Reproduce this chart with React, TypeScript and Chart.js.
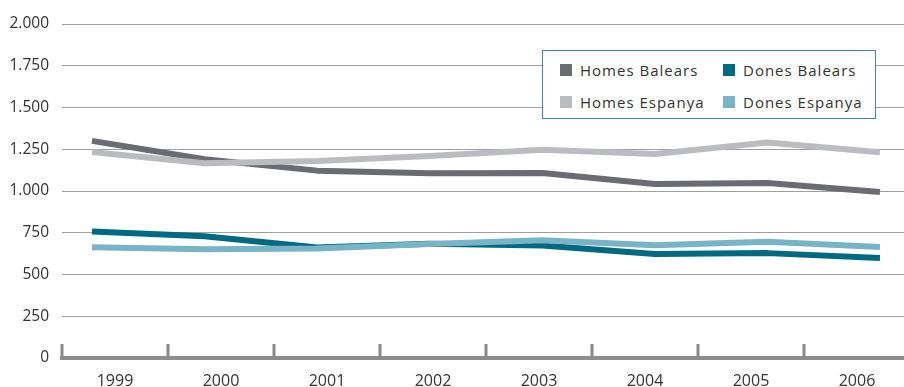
import React, { useEffect, useRef } from "react";
import { Chart, registerables } from "chart.js";

Chart.register(...registerables);

const years = ["1999", "2000", "2001", "2002", "2003", "2004", "2005", "2006"];
const homesBalears = [1300, 1190, 1122, 1106, 1108, 1042, 1048, 994];
const homesEspanya = [1233, 1166, 1180, 1210, 1247, 1221, 1290, 1232];
const donesBalears = [758, 729, 662, 684, 674, 623, 628, 599];
const donesEspanya = [663, 651, 656, 682, 705, 675, 696, 665];
const yTickValues = [0, 250, 500, 750, 1000, 1250, 1500, 1750, 2000];

const seriesNames = ["Homes Balears", "Dones Balears", "Homes Espanya", "Dones Espanya"];
const seriesColors = ["#6b6c71", "#006a82", "#bbbcc0", "#78b4c8"];

const FONT = "'Open Sans', 'Noto Sans', sans-serif";

const fmt = (v: number) => String(v).replace(/\B(?=(\d{3})+(?!\d))/g, ".");

const boundaryTicks = {
  id: "boundaryTicks",
  afterDraw(chart: any) {
    const x = chart.scales.x;
    const n = chart.data.labels.length;
    const w = (x.right - x.left) / n;
    const ctx = chart.ctx;
    ctx.save();
    ctx.fillStyle = "#8a8a8a";
    for (let i = 0; i <= n; i++) {
      const px = x.left + i * w;
      ctx.fillRect(px - 1.5, chart.chartArea.bottom - 14, 3, 12);
    }
    ctx.restore();
  },
};

export default function App() {
  const ref = useRef<HTMLCanvasElement>(null);

  useEffect(() => {
    const toPts = (arr: number[]) => arr.map((v, i) => ({ x: i, y: v }));
    const series = [homesBalears, donesBalears, homesEspanya, donesEspanya];
    const chart = new Chart(ref.current!, {
      type: "line",
      data: {
        labels: years,
        datasets: series.map((s, i) => ({
          label: seriesNames[i],
          data: toPts(s),
          xAxisID: "xl",
          borderColor: seriesColors[i],
          backgroundColor: seriesColors[i],
          borderWidth: 6,
          pointRadius: 0,
          tension: 0,
          borderCapStyle: "butt",
          borderJoinStyle: "round",
          order: seriesNames[i].includes("Espanya") ? 0 : 1,
        })) as any,
      },
      options: {
        animation: false,
        responsive: false,
        devicePixelRatio: 1,
        layout: { padding: { top: 24, left: 0, right: 0, bottom: 0 } },
        plugins: { legend: { display: false }, tooltip: { enabled: false } },
        scales: {
          x: {
            type: "category",
            offset: true,
            grid: { display: false, drawTicks: false },
            border: { display: true, color: "#8c8c8c", width: 4 },
            ticks: {
              color: "#333",
              padding: 14,
              font: { family: FONT, size: 16 },
              maxRotation: 0,
            },
            afterFit: (s: any) => {
              s.height = 29;
            },
          },
          xl: {
            type: "linear",
            display: false,
            min: -0.2665,
            max: 7.267,
          },
          y: {
            min: 0,
            max: 2000,
            afterBuildTicks: (s: any) => {
              s.ticks = yTickValues.map((v) => ({ value: v }));
            },
            grid: { color: "#a0a0a0", lineWidth: 1, drawTicks: false },
            border: { display: false },
            ticks: {
              color: "#333",
              padding: 13,
              font: { family: FONT, size: 15.5 },
              callback: (v: any) => fmt(Number(v)),
            },
            afterFit: (s: any) => {
              s.width = 62;
            },
          },
        },
      },
      plugins: [boundaryTicks],
    });
    return () => chart.destroy();
  }, []);

  const legendItem = (i: number) => (
    <div style={{ display: "flex", alignItems: "center", height: 30 }}>
      <span
        style={{
          display: "inline-block",
          width: 12,
          height: 12,
          background: seriesColors[i],
          marginRight: 8,
        }}
      />
      <span style={{ letterSpacing: 1, color: "#333" }}>{seriesNames[i]}</span>
    </div>
  );

  return (
    <div
      style={{
        position: "absolute",
        left: 0,
        top: 0,
        width: 904,
        height: 387,
        overflow: "hidden",
        background: "#fff",
      }}
    >
      <canvas ref={ref} width={910} height={387} style={{ display: "block" }} />
      <div
        style={{
          position: "absolute",
          left: 542,
          top: 50,
          width: 334,
          height: 69,
          border: "1px solid #3c8e9e",
          background: "#fff",
          fontFamily: FONT,
          fontSize: 15,
          boxSizing: "border-box",
          display: "grid",
          gridTemplateColumns: "163px 150px",
          paddingLeft: 17,
          paddingTop: 4,
        }}
      >
        {legendItem(0)}
        {legendItem(1)}
        {legendItem(2)}
        {legendItem(3)}
      </div>
    </div>
  );
}
